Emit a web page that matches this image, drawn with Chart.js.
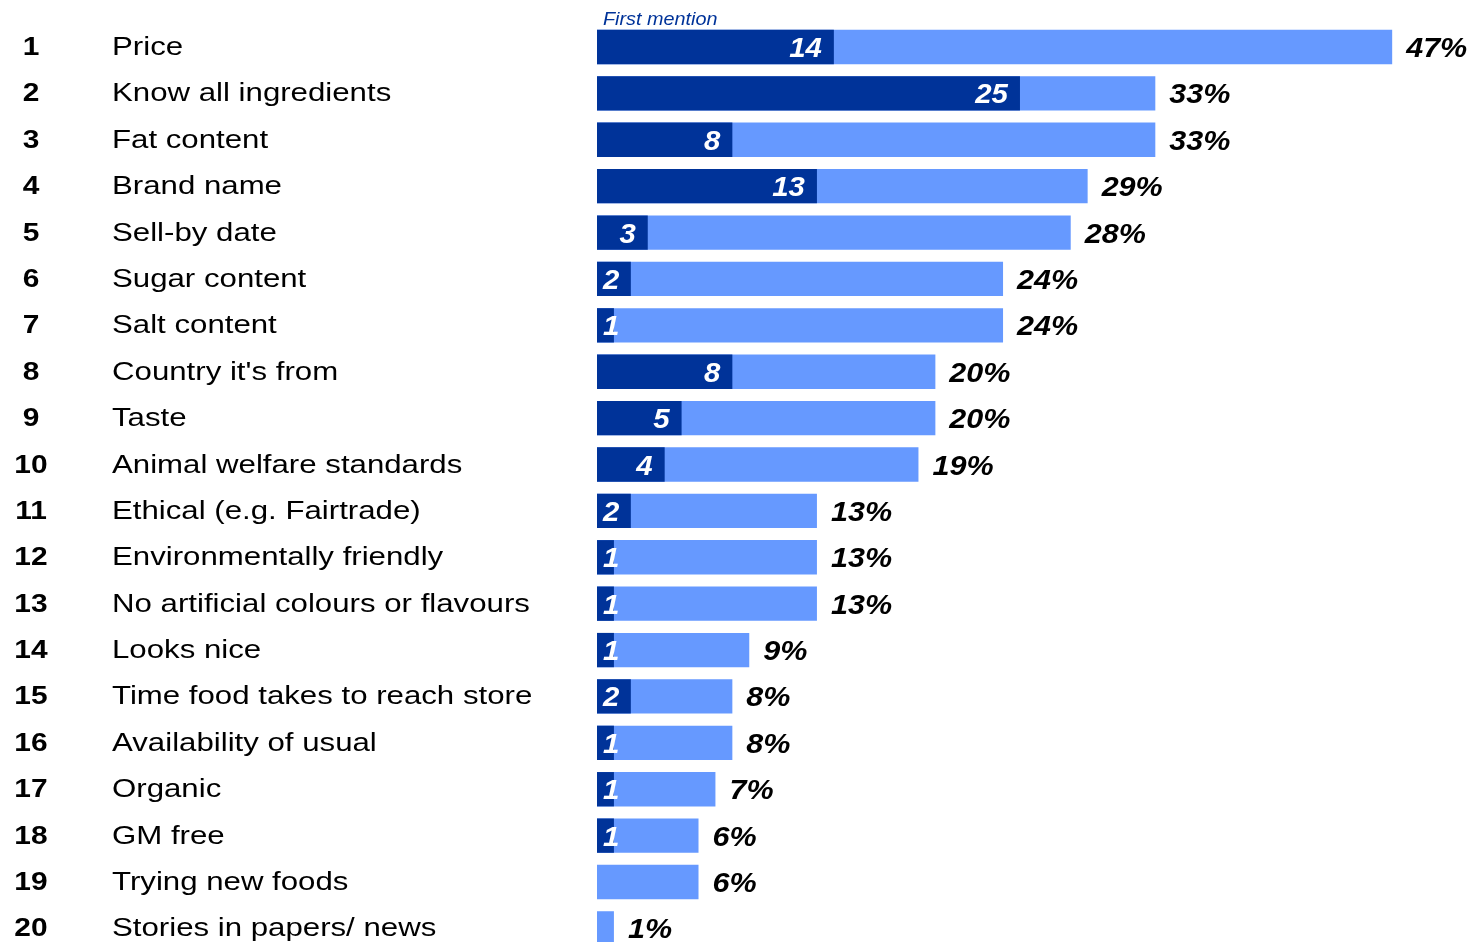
<!DOCTYPE html>
<html lang="en">
<head>
    <meta charset="UTF-8">
    <title>Food choice factors</title>
    <script src="https://cdn.jsdelivr.net/npm/chart.js@4.4.0/dist/chart.umd.min.js"></script>
    <style>
        html, body { margin: 0; padding: 0; background: #fff; }
    </style>
</head>
<body>
<canvas id="chart" width="1470" height="942"></canvas>

<script>
    const ranks = ['1','2','3','4','5','6','7','8','9','10','11','12','13','14','15','16','17','18','19','20'];
    const factors = [
        'Price', 'Know all ingredients', 'Fat content', 'Brand name', 'Sell-by date',
        'Sugar content', 'Salt content', "Country it's from", 'Taste', 'Animal welfare standards',
        'Ethical (e.g. Fairtrade)', 'Environmentally friendly', 'No artificial colours or flavours',
        'Looks nice', 'Time food takes to reach store', 'Availability of usual', 'Organic',
        'GM free', 'Trying new foods', 'Stories in papers/ news'
    ];
    // first mention (dark part) and all mentions (whole bar), percent
    const firstMention = [14, 25, 8, 13, 3, 2, 1, 8, 5, 4, 2, 1, 1, 1, 2, 1, 1, 1, null, null];
    const allMentions = [47, 33, 33, 29, 28, 24, 24, 20, 20, 19, 13, 13, 13, 9, 8, 8, 7, 6, 6, 1];

    const FONT = '"Liberation Sans", Arial, sans-serif';

    // the picture is stretched sideways, so text gets a horizontal scale
    function stretchText(ctx, text, x, y, sx, align) {
        ctx.save();
        ctx.translate(x, y);
        ctx.scale(sx, 1);
        ctx.textAlign = align;
        ctx.fillText(text, 0, 0);
        ctx.restore();
    }

    const labelsPlugin = {
        id: 'labels',
        afterDatasetsDraw(chart) {
            const ctx = chart.ctx;
            const dark = chart.getDatasetMeta(0).data;
            const light = chart.getDatasetMeta(1).data;
            ctx.save();
            ctx.textBaseline = 'alphabetic';

            ctx.fillStyle = '#003399';
            ctx.font = 'italic 18px ' + FONT;
            stretchText(ctx, 'First mention', 603, 25, 1.1, 'left');

            factors.forEach((name, i) => {
                const bar = light[i];
                const y = bar.y;

                ctx.fillStyle = '#000';
                ctx.font = 'bold 26px ' + FONT;
                stretchText(ctx, ranks[i], 31, y + 8, 1.15, 'center');
                ctx.font = '26px ' + FONT;
                stretchText(ctx, name, 112, y + 8, 1.2, 'left');

                ctx.font = 'italic bold 28px ' + FONT;
                stretchText(ctx, allMentions[i] + '%', bar.x + 14, y + 10, 1.09, 'left');

                if (firstMention[i] != null) {
                    const d = dark[i];
                    const txt = String(firstMention[i]);
                    const w = ctx.measureText(txt).width * 1.05;
                    const right = Math.max(d.x - 12, d.base + 6 + w);
                    ctx.fillStyle = '#fff';
                    stretchText(ctx, txt, right, y + 10, 1.05, 'right');
                }
            });
            ctx.restore();
        }
    };

    new Chart(document.getElementById('chart'), {
        type: 'bar',
        data: {
            labels: factors,
            datasets: [{
                label: 'First mention',
                data: firstMention,
                backgroundColor: '#003399',
                grouped: false,
                clip: false,
                barPercentage: 0.74,
                categoryPercentage: 1
            }, {
                label: 'All mentions',
                data: allMentions,
                backgroundColor: '#6699ff',
                grouped: false,
                clip: false,
                barPercentage: 0.74,
                categoryPercentage: 1
            }]
        },
        options: {
            indexAxis: 'y',
            responsive: false,
            animation: false,
            devicePixelRatio: 1,
            layout: { padding: { left: 597, right: 0, top: 47, bottom: 13.6 } },
            scales: {
                x: { display: false, min: 0, max: 51.6 },
                y: { display: false, offset: false }
            },
            plugins: {
                legend: { display: false },
                tooltip: { enabled: false }
            }
        },
        plugins: [labelsPlugin]
    });
</script>
</body>
</html>
